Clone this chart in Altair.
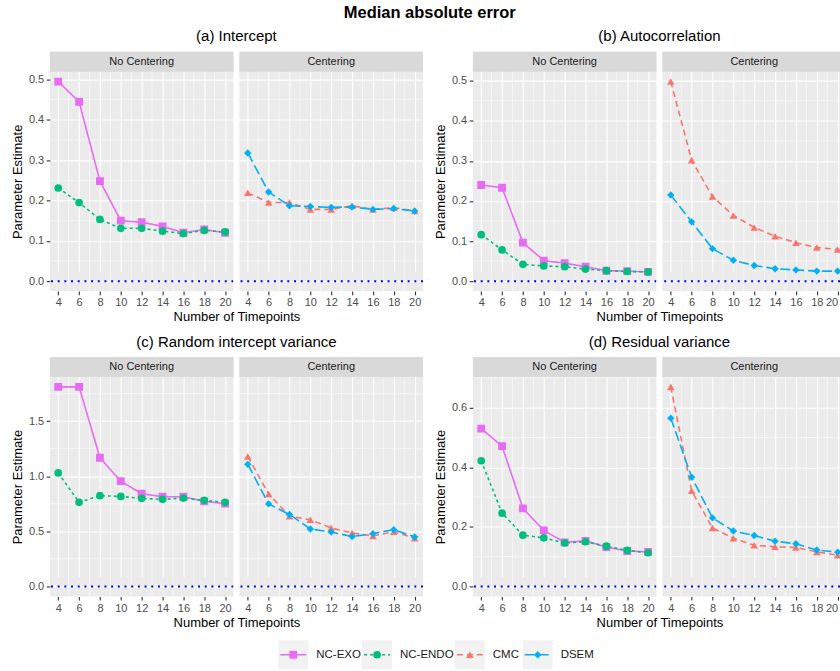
import altair as alt
import pandas as pd

# ---------------------------------------------------------------- data
TIMEPOINTS = [4, 6, 8, 10, 12, 14, 16, 18, 20]
SERIES = ["NC-EXO", "NC-ENDO", "CMC", "DSEM"]
SERIES_COLORS = ["#E76BF3", "#00BF7D", "#F8766D", "#00B0F6"]

# (a) Intercept
intercept_nc_exo = [0.495, 0.445, 0.248, 0.150, 0.146, 0.136, 0.120, 0.128, 0.120]
intercept_nc_endo = [0.231, 0.195, 0.153, 0.131, 0.131, 0.124, 0.118, 0.126, 0.122]
intercept_cmc = [0.219, 0.195, 0.195, 0.178, 0.178, 0.187, 0.178, 0.182, 0.174]
intercept_dsem = [0.318, 0.221, 0.187, 0.185, 0.183, 0.184, 0.178, 0.180, 0.174]

# (b) Autocorrelation
auto_nc_exo = [0.240, 0.233, 0.096, 0.051, 0.045, 0.036, 0.026, 0.025, 0.023]
auto_nc_endo = [0.116, 0.078, 0.042, 0.038, 0.036, 0.030, 0.026, 0.024, 0.023]
auto_cmc = [0.498, 0.302, 0.211, 0.164, 0.134, 0.112, 0.096, 0.084, 0.079]
auto_dsem = [0.215, 0.148, 0.081, 0.052, 0.039, 0.031, 0.028, 0.025, 0.025]

# (c) Random intercept variance
riv_nc_exo = [1.811, 1.811, 1.168, 0.955, 0.841, 0.814, 0.814, 0.772, 0.751]
riv_nc_endo = [1.030, 0.763, 0.823, 0.817, 0.799, 0.790, 0.802, 0.781, 0.763]
riv_cmc = [1.180, 0.838, 0.638, 0.605, 0.530, 0.485, 0.458, 0.497, 0.437]
riv_dsem = [1.108, 0.749, 0.653, 0.521, 0.494, 0.452, 0.479, 0.515, 0.449]

# (d) Residual variance
res_nc_exo = [0.530, 0.471, 0.262, 0.188, 0.148, 0.153, 0.132, 0.119, 0.116]
res_nc_endo = [0.422, 0.246, 0.172, 0.163, 0.146, 0.150, 0.135, 0.121, 0.113]
res_cmc = [0.670, 0.321, 0.196, 0.162, 0.138, 0.133, 0.131, 0.116, 0.105]
res_dsem = [0.565, 0.367, 0.230, 0.186, 0.171, 0.152, 0.143, 0.122, 0.115]

PANELS = [
    ("(a) Intercept", [intercept_nc_exo, intercept_nc_endo, intercept_cmc, intercept_dsem],
     [0.0, 0.1, 0.2, 0.3, 0.4, 0.5], [0.05, 0.15, 0.25, 0.35, 0.45]),
    ("(b) Autocorrelation", [auto_nc_exo, auto_nc_endo, auto_cmc, auto_dsem],
     [0.0, 0.1, 0.2, 0.3, 0.4, 0.5], [0.05, 0.15, 0.25, 0.35, 0.45]),
    ("(c) Random intercept variance", [riv_nc_exo, riv_nc_endo, riv_cmc, riv_dsem],
     [0.0, 0.5, 1.0, 1.5], [0.25, 0.75, 1.25, 1.75]),
    ("(d) Residual variance", [res_nc_exo, res_nc_endo, res_cmc, res_dsem],
     [0.0, 0.2, 0.4, 0.6], [0.1, 0.3, 0.5, 0.7]),
]
MINOR_X = [5, 7, 9, 11, 13, 15, 17, 19]
FACETS = [("No Centering", ["NC-EXO", "NC-ENDO"]), ("Centering", ["CMC", "DSEM"])]

# ---------------------------------------------------------------- layout / styling
FONT = "Liberation Sans"
W, W_CLIP, H, STRIP_H = 184, 178, 220, 20
FACET_GAP = 6
PANEL_GAP = 50
PANEL_MID = (2 * W + FACET_GAP) / 2          # centre of a two-facet panel
X_LO, X_HI = 3.2, 20.8

color_scale = alt.Scale(domain=SERIES, range=SERIES_COLORS)
dash_scale = alt.Scale(domain=SERIES, range=[[1, 0], [3, 3], [6, 4], [10, 4]])
shape_scale = alt.Scale(domain=SERIES, range=["square", "circle", "triangle-up", "diamond"])
size_scale = alt.Scale(domain=SERIES, range=[62, 55, 125, 95])


def facet(df_f, label, yticks, yminor, ydomain, first, clipped, panel_title):
    """One facet: grey strip on top (inside the view) and the plot below it."""
    w = W_CLIP if clipped else W
    x_hi = X_LO + (X_HI - X_LO) * w / W
    xs = alt.Scale(domain=[X_LO, x_hi], nice=False, zero=False)
    ys = alt.Scale(domain=ydomain, nice=False, zero=False, range=[STRIP_H + H, STRIP_H])
    x_axis_kw = dict(values=TIMEPOINTS, grid=True, gridColor="white",
                     gridWidth=1.1, domain=False, tickColor="#333333", tickSize=3.7,
                     tickWidth=1.1, labelColor="#4D4D4D", labelFontSize=11,
                     labelPadding=2, labelFlush=3 if clipped else False)
    if first:
        x_axis = alt.Axis(title="Number of Timepoints", titleX=PANEL_MID,
                          titleAlign="center", titleFontSize=13, titleColor="black",
                          titleFontWeight="normal", titlePadding=3, **x_axis_kw)
        y_axis = alt.Axis(values=yticks, format=".1f", title="Parameter Estimate",
                          titleFontSize=13, titleColor="black", titleFontWeight="normal",
                          titlePadding=4, grid=True, gridColor="white", gridWidth=1.1,
                          domain=False, tickColor="#333333", tickSize=3.7, tickWidth=1.1,
                          labelColor="#4D4D4D", labelFontSize=11, labelPadding=2.5)
    else:
        x_axis = alt.Axis(title=None, **x_axis_kw)
        y_axis = alt.Axis(values=yticks, title=None, grid=True, gridColor="white",
                          gridWidth=1.1, labels=False, ticks=False, domain=False)
    X = alt.X("t:Q", scale=xs, axis=x_axis)
    Y = alt.Y("v:Q", scale=ys, axis=y_axis)

    minor_x = alt.Chart(pd.DataFrame({"t": MINOR_X})).mark_rule(
        color="white", strokeWidth=0.55).encode(x=X)
    minor_y = alt.Chart(pd.DataFrame({"v": yminor})).mark_rule(
        color="white", strokeWidth=0.55, clip=True).encode(y=Y)
    zero = alt.Chart(pd.DataFrame({"v": [0.0]})).mark_rule(
        color="#0000FF", strokeWidth=2, strokeDash=[2, 4.7], clip=True).encode(y=Y)
    lines = alt.Chart(df_f).mark_line(strokeWidth=1.6, clip=True).encode(
        x=X, y=Y,
        color=alt.Color("series:N", scale=color_scale, legend=None),
        strokeDash=alt.StrokeDash("series:N", scale=dash_scale, legend=None))
    points = alt.Chart(df_f).mark_point(filled=True, opacity=1, clip=True).encode(
        x=X, y=Y,
        color=alt.Color("series:N", scale=color_scale, legend=None),
        shape=alt.Shape("series:N", scale=shape_scale, legend=None),
        size=alt.Size("series:N", scale=size_scale, legend=None))

    strip_df = pd.DataFrame({"lab": [label]})
    strip_bg = alt.Chart(strip_df).mark_rect(color="#D9D9D9").encode(
        x=alt.value(0), x2=alt.value(w), y=alt.value(0), y2=alt.value(STRIP_H))
    strip_txt = alt.Chart(strip_df).mark_text(fontSize=11, color="#1A1A1A").encode(
        text="lab:N", x=alt.value(W / 2), y=alt.value(STRIP_H / 2))

    props = dict(width=w, height=STRIP_H + H)
    if first:
        props["title"] = alt.TitleParams(
            panel_title, anchor="middle", frame="group", dx=PANEL_MID - W / 2,
            fontSize=15, fontWeight="normal", color="black", offset=7)
    return alt.layer(minor_x, minor_y, zero, lines, points, strip_bg, strip_txt).properties(**props)


def panel_cells(title, values, yticks, yminor, clipped):
    rows = []
    for name, vals in zip(SERIES, values):
        for t, v in zip(TIMEPOINTS, vals):
            rows.append({"series": name, "t": t, "v": v})
    df = pd.DataFrame(rows)
    top = max(max(v) for v in values)
    pad = 0.05 * top
    ydomain = [-pad, top + pad]
    cells = []
    for i, (label, members) in enumerate(FACETS):
        df_f = df[df["series"].isin(members)]
        cells.append(facet(df_f, label, yticks, yminor, ydomain, first=(i == 0),
                           clipped=(clipped and i == 1), panel_title=title))
    return cells


def blank(width, height):
    return alt.Chart(pd.DataFrame({"a": [0]})).mark_point(opacity=0).encode(
        x=alt.value(0), y=alt.value(0)).properties(
        width=width, height=height, view=alt.ViewBackground(fill="white", stroke=None))


gap_w = PANEL_GAP - 2 * FACET_GAP
cells = []
for left, right in [(PANELS[0], PANELS[1]), (PANELS[2], PANELS[3])]:
    cells += panel_cells(*left, clipped=False)
    cells.append(blank(gap_w, STRIP_H + H))
    cells += panel_cells(*right, clipped=True)
grid = alt.concat(*cells, columns=5, spacing={"row": 66, "column": FACET_GAP},
                  align="each", bounds="flush")

# ---------------------------------------------------------------- legend
KEY_W, KEY_H = 30, 29
TEXT_GAP, ENTRY_GAP = 8, 7
LABEL_W = {"NC-EXO": 39, "NC-ENDO": 48, "CMC": 23, "DSEM": 29}
LEGEND_TAIL = 22          # blank room after the last label
legend_layers = []
x0 = 0
for name in SERIES:
    base = alt.Chart(pd.DataFrame({"series": [name]}))
    legend_layers += [
        base.mark_rect(color="#F2F2F2").encode(
            x=alt.value(x0), x2=alt.value(x0 + KEY_W), y=alt.value(0), y2=alt.value(KEY_H)),
        base.mark_rule(strokeWidth=1.6).encode(
            x=alt.value(x0 + 2), x2=alt.value(x0 + KEY_W - 2), y=alt.value(KEY_H / 2),
            color=alt.Color("series:N", scale=color_scale, legend=None),
            strokeDash=alt.StrokeDash("series:N", scale=dash_scale, legend=None)),
        base.mark_point(filled=True, opacity=1).encode(
            x=alt.value(x0 + KEY_W / 2), y=alt.value(KEY_H / 2),
            color=alt.Color("series:N", scale=color_scale, legend=None),
            shape=alt.Shape("series:N", scale=shape_scale, legend=None),
            size=alt.Size("series:N", scale=size_scale, legend=None)),
        base.mark_text(align="left", fontSize=11.5, color="#1A1A1A").encode(
            x=alt.value(x0 + KEY_W + TEXT_GAP), y=alt.value(KEY_H / 2), text="series:N"),
    ]
    x0 += KEY_W + TEXT_GAP + LABEL_W[name] + ENTRY_GAP
legend = alt.layer(*legend_layers).properties(
    width=x0 - ENTRY_GAP + LEGEND_TAIL, height=KEY_H,
    view=alt.ViewBackground(fill="white", stroke=None))

chart = alt.vconcat(
    grid, legend, spacing=11, center=True,
    title=alt.TitleParams("Median absolute error", anchor="middle", fontSize=16.5,
                          fontWeight="bold", color="black", offset=8, dx=4),
).configure(
    font=FONT, background="white",
    padding={"left": 11, "top": 4, "right": 0, "bottom": 0},
).configure_view(stroke=None, fill="#EBEBEB")

chart.save("out.html", embed_options={"renderer": "svg", "actions": False})
